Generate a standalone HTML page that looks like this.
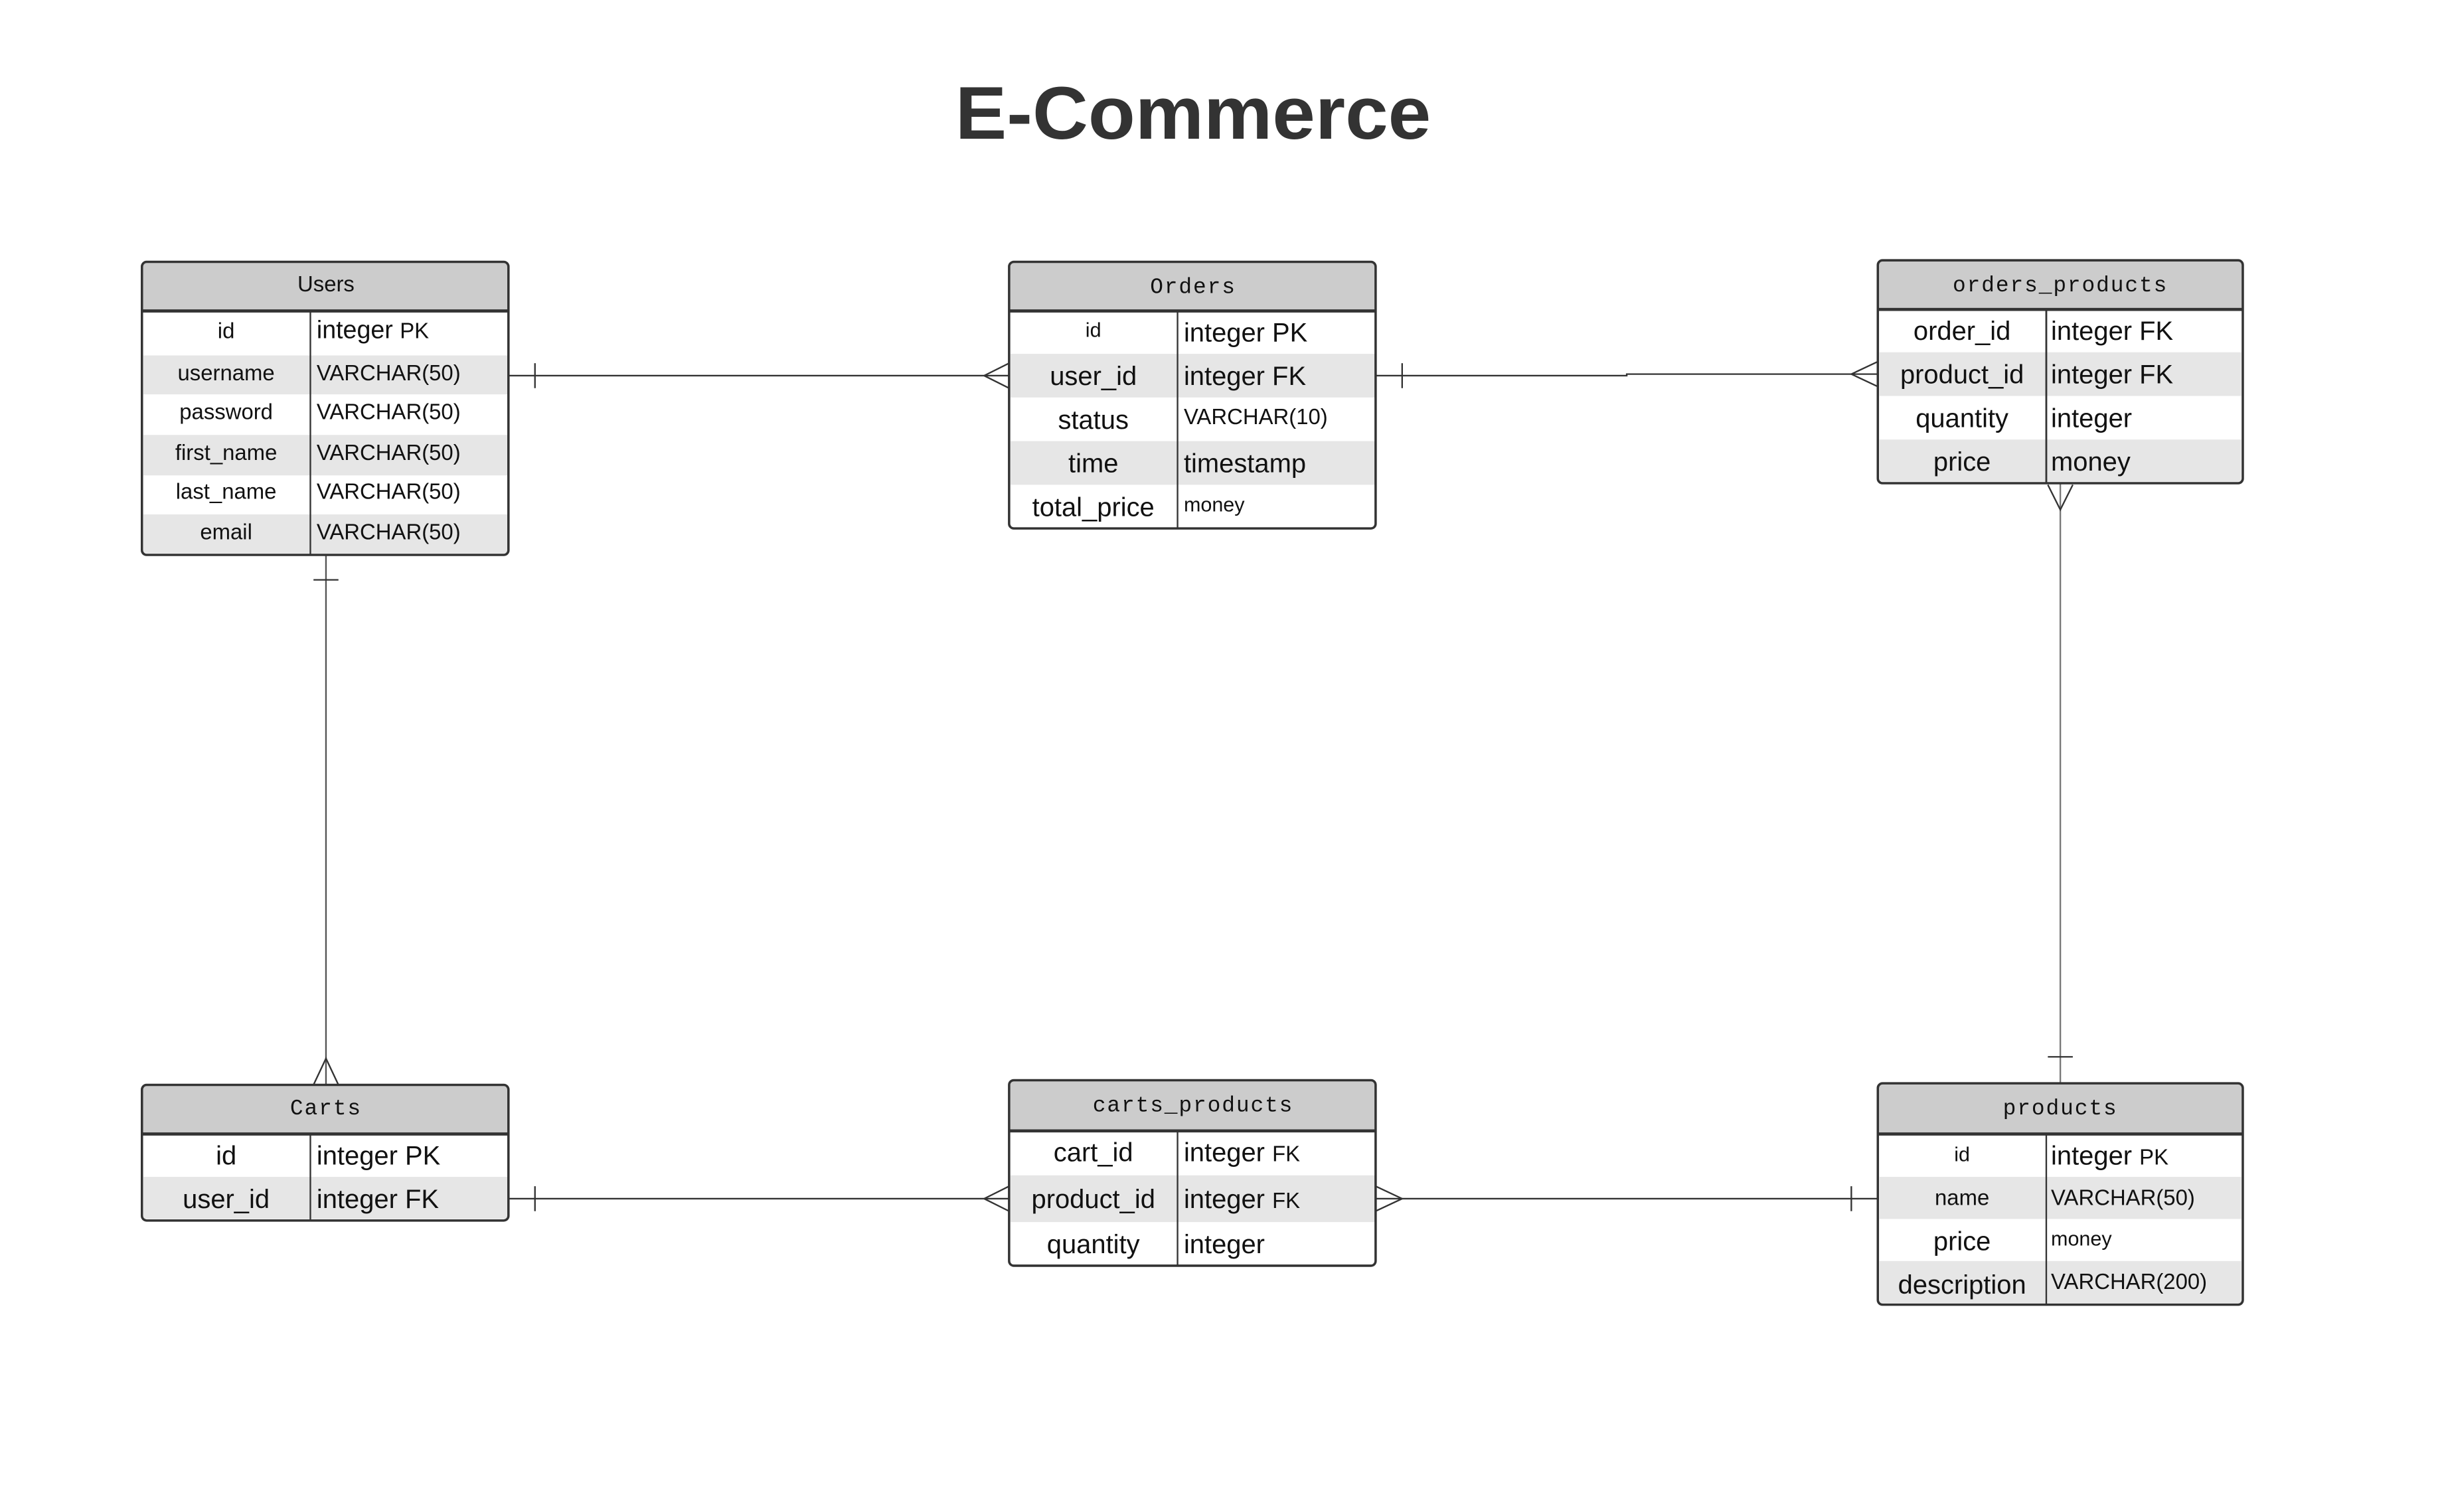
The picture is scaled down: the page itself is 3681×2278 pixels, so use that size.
<!DOCTYPE html>
<html><head><meta charset="utf-8"><style>
html,body{margin:0;padding:0;background:#fff;}
svg{display:block;}
text{font-family:"Liberation Sans",sans-serif;fill:#111;}
.m{font-family:"Liberation Mono",monospace;letter-spacing:0.8px;}
</style></head><body>
<svg width="3681" height="2278" viewBox="0 0 1567 970" preserveAspectRatio="none" xmlns="http://www.w3.org/2000/svg">
<rect width="1567" height="970" fill="#fff"/>
<text x="765" y="89" text-anchor="middle" font-size="48" font-weight="bold" style="fill:#333" textLength="305" lengthAdjust="spacingAndGlyphs">E-Commerce</text>

<g stroke="#333" stroke-width="1" fill="none">
<line x1="326" y1="241" x2="647" y2="241"/>
<line x1="343" y1="233" x2="343" y2="249"/>
<polyline points="647,233 631,241 647,249"/>
<polyline points="882,241 1043,241 1043,240 1204,240"/>
<line x1="899" y1="233" x2="899" y2="249"/>
<polyline points="1204,232 1187,240 1204,248"/>
<line x1="1321" y1="310" x2="1321" y2="695" stroke="#777"/>
<polyline points="1313,311 1321,327 1329,311"/>
<line x1="1313" y1="678" x2="1329" y2="678"/>
<line x1="209" y1="356" x2="209" y2="696" stroke="#555"/>
<line x1="201" y1="372" x2="217" y2="372"/>
<polyline points="201,696 209,679 217,696"/>
<line x1="326" y1="769" x2="647" y2="769"/>
<line x1="343" y1="761" x2="343" y2="777"/>
<polyline points="647,761 631,769 647,777"/>
<line x1="882" y1="769" x2="1204" y2="769"/>
<polyline points="882,761 899,769 882,777"/>
<line x1="1187" y1="761" x2="1187" y2="777"/>
</g>

<!-- Users -->
<g>
<rect x="91" y="168" width="235" height="188" rx="3" fill="#fff"/>
<rect x="92" y="228" width="234" height="25" fill="#e6e6e6"/>
<rect x="92" y="279" width="234" height="26" fill="#e6e6e6"/>
<rect x="92" y="330" width="234" height="25" fill="#e6e6e6"/>
<path d="M91,199 V171 a3,3 0 0 1 3,-3 H323 a3,3 0 0 1 3,3 V199 Z" fill="#ccc"/>
<rect x="91" y="168" width="235" height="188" rx="3" fill="none" stroke="#333" stroke-width="1.5"/>
<line x1="91" y1="199.5" x2="326" y2="199.5" stroke="#333" stroke-width="2"/>
<line x1="199" y1="200" x2="199" y2="356" stroke="#333"/>
<text x="209" y="187" text-anchor="middle" font-size="14">Users</text>
<g font-size="14"><text x="145" y="217" text-anchor="middle">id</text><text x="203" y="217" font-size="16">integer <tspan font-size="14">PK</tspan></text></g>
<g font-size="14" text-anchor="middle">
<text x="145" y="244">username</text><text x="145" y="269">password</text><text x="145" y="295">first_name</text><text x="145" y="320">last_name</text><text x="145" y="346">email</text></g>
<g font-size="14"><text x="203" y="244">VARCHAR(50)</text><text x="203" y="269">VARCHAR(50)</text><text x="203" y="295">VARCHAR(50)</text><text x="203" y="320">VARCHAR(50)</text><text x="203" y="346">VARCHAR(50)</text></g>
</g>

<!-- Orders -->
<g>
<rect x="647" y="168" width="235" height="171" rx="3" fill="#fff"/>
<rect x="648" y="227" width="234" height="28" fill="#e6e6e6"/>
<rect x="648" y="283" width="234" height="28" fill="#e6e6e6"/>
<path d="M647,199 V171 a3,3 0 0 1 3,-3 H879 a3,3 0 0 1 3,3 V199 Z" fill="#ccc"/>
<rect x="647" y="168" width="235" height="171" rx="3" fill="none" stroke="#333" stroke-width="1.5"/>
<line x1="647" y1="199.5" x2="882" y2="199.5" stroke="#333" stroke-width="2"/>
<line x1="755" y1="200" x2="755" y2="339" stroke="#333"/>
<text x="765" y="188" text-anchor="middle" font-size="14" class="m">Orders</text>
<text x="701" y="216" text-anchor="middle" font-size="13">id</text>
<g font-size="17" text-anchor="middle"><text x="701" y="247">user_id</text><text x="701" y="275">status</text><text x="701" y="303">time</text><text x="701" y="331">total_price</text></g>
<g font-size="17"><text x="759" y="219">integer PK</text><text x="759" y="247">integer FK</text><text x="759" y="303">timestamp</text></g>
<text x="759" y="272" font-size="14">VARCHAR(10)</text>
<text x="759" y="328" font-size="13">money</text>
</g>

<!-- orders_products -->
<g>
<rect x="1204" y="167" width="234" height="143" rx="3" fill="#fff"/>
<rect x="1205" y="226" width="232" height="28" fill="#e6e6e6"/>
<rect x="1205" y="282" width="232" height="27" fill="#e6e6e6"/>
<path d="M1204,198 V170 a3,3 0 0 1 3,-3 H1435 a3,3 0 0 1 3,3 V198 Z" fill="#ccc"/>
<rect x="1204" y="167" width="234" height="143" rx="3" fill="none" stroke="#333" stroke-width="1.5"/>
<line x1="1204" y1="198.5" x2="1438" y2="198.5" stroke="#333" stroke-width="2"/>
<line x1="1312" y1="199" x2="1312" y2="310" stroke="#333" stroke-width="1.2"/>
<text x="1321" y="187" text-anchor="middle" font-size="14" class="m">orders_products</text>
<g font-size="17" text-anchor="middle"><text x="1258" y="218">order_id</text><text x="1258" y="246">product_id</text><text x="1258" y="274">quantity</text><text x="1258" y="302">price</text></g>
<g font-size="17"><text x="1315" y="218">integer FK</text><text x="1315" y="246">integer FK</text><text x="1315" y="274">integer</text><text x="1315" y="302">money</text></g>
</g>

<!-- Carts -->
<g>
<rect x="91" y="696" width="235" height="87" rx="3" fill="#fff"/>
<rect x="92" y="755" width="234" height="27" fill="#e6e6e6"/>
<path d="M91,727 V699 a3,3 0 0 1 3,-3 H323 a3,3 0 0 1 3,3 V727 Z" fill="#ccc"/>
<rect x="91" y="696" width="235" height="87" rx="3" fill="none" stroke="#333" stroke-width="1.5"/>
<line x1="91" y1="727.5" x2="326" y2="727.5" stroke="#333" stroke-width="2"/>
<line x1="199" y1="728" x2="199" y2="783" stroke="#333"/>
<text x="209" y="715" text-anchor="middle" font-size="14" class="m">Carts</text>
<g font-size="17" text-anchor="middle"><text x="145" y="747">id</text><text x="145" y="775">user_id</text></g>
<g font-size="17"><text x="203" y="747">integer PK</text><text x="203" y="775">integer FK</text></g>
</g>

<!-- carts_products -->
<g>
<rect x="647" y="693" width="235" height="119" rx="3" fill="#fff"/>
<rect x="648" y="754" width="234" height="30" fill="#e6e6e6"/>
<path d="M647,725 V696 a3,3 0 0 1 3,-3 H879 a3,3 0 0 1 3,3 V725 Z" fill="#ccc"/>
<rect x="647" y="693" width="235" height="119" rx="3" fill="none" stroke="#333" stroke-width="1.5"/>
<line x1="647" y1="725.5" x2="882" y2="725.5" stroke="#333" stroke-width="2"/>
<line x1="755" y1="726" x2="755" y2="812" stroke="#333"/>
<text x="765" y="713" text-anchor="middle" font-size="14" class="m">carts_products</text>
<g font-size="17" text-anchor="middle"><text x="701" y="745">cart_id</text><text x="701" y="775">product_id</text><text x="701" y="804">quantity</text></g>
<g font-size="17"><text x="759" y="745">integer <tspan font-size="14">FK</tspan></text><text x="759" y="775">integer <tspan font-size="14">FK</tspan></text><text x="759" y="804">integer</text></g>
</g>

<!-- products -->
<g>
<rect x="1204" y="695" width="234" height="142" rx="3" fill="#fff"/>
<rect x="1205" y="755" width="232" height="27" fill="#e6e6e6"/>
<rect x="1205" y="809" width="232" height="27" fill="#e6e6e6"/>
<path d="M1204,727 V698 a3,3 0 0 1 3,-3 H1435 a3,3 0 0 1 3,3 V727 Z" fill="#ccc"/>
<rect x="1204" y="695" width="234" height="142" rx="3" fill="none" stroke="#333" stroke-width="1.5"/>
<line x1="1204" y1="727.5" x2="1438" y2="727.5" stroke="#333" stroke-width="2"/>
<line x1="1312" y1="728" x2="1312" y2="837" stroke="#333"/>
<text x="1321" y="715" text-anchor="middle" font-size="14" class="m">products</text>
<g text-anchor="middle"><text x="1258" y="745" font-size="13">id</text><text x="1258" y="773" font-size="14">name</text><text x="1258" y="802" font-size="17">price</text><text x="1258" y="830" font-size="17">description</text></g>
<text x="1315" y="747" font-size="17">integer <tspan font-size="14">PK</tspan></text>
<text x="1315" y="773" font-size="14">VARCHAR(50)</text>
<text x="1315" y="799" font-size="13">money</text>
<text x="1315" y="827" font-size="14">VARCHAR(200)</text>
</g>
</svg>
</body></html>
